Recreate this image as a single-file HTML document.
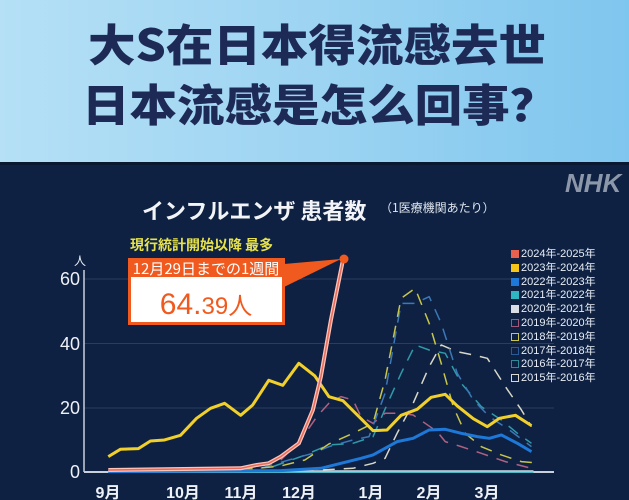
<!DOCTYPE html>
<html><head><meta charset="utf-8"><style>
body{margin:0;width:629px;height:500px;overflow:hidden;background:#0e2142;font-family:"Liberation Sans","Noto Sans CJK JP",sans-serif;position:relative}
.hdr{position:absolute;left:0;top:0;width:629px;height:162px;background:linear-gradient(90deg,#b5e0f6,#9dd4f2 50%,#7fc6ee)}
.t{position:absolute;font-family:"Noto Sans CJK SC",sans-serif;font-weight:900;color:#1e2a56;font-size:44px;line-height:44px;white-space:nowrap;transform:scaleX(1.08);transform-origin:left top}
.ab{position:absolute;white-space:nowrap}
.lg{position:absolute;left:511px;font-size:11px;color:#e8edf5;line-height:12px;font-family:"Liberation Sans","Noto Sans CJK JP",sans-serif}
.lg i{display:inline-block;width:8px;height:8px;margin-right:2px;vertical-align:-1px;box-sizing:border-box}
</style></head><body>
<div class="hdr"></div>
<div class="t" style="left:88px;top:20px">大S在日本得流感去世</div>
<div class="t" style="left:82px;top:80px">日本流感是怎么回事？</div>
<div style="position:absolute;left:0;top:162px;width:629px;height:3px;background:#0a1830"></div>
<div class="ab" style="left:565px;top:168px;font-size:26px;font-weight:bold;font-style:italic;color:#8d97aa">NHK</div>
<div class="ab" style="left:142px;top:194px;font-size:22px;font-weight:bold;color:#f2f4f8;font-family:'Noto Sans CJK JP',sans-serif">インフルエンザ 患者数</div>
<div class="ab" style="left:380px;top:199px;font-size:12px;color:#e0e6ef;font-family:'Noto Sans CJK JP',sans-serif">（1医療機関あたり）</div>
<svg width="629" height="500" style="position:absolute;left:0;top:0">
<g stroke="#2a3d5e" stroke-width="1"><line x1="84" y1="279" x2="554" y2="279"/><line x1="84" y1="343.5" x2="554" y2="343.5"/><line x1="84" y1="408" x2="554" y2="408"/></g>
<line x1="84" y1="270" x2="84" y2="472" stroke="#c8d0dc" stroke-width="1.5"/>
<line x1="84" y1="472" x2="554" y2="472" stroke="#c8d0dc" stroke-width="2"/>
<g transform="translate(0,160) scale(0.4011,0.3333)" fill="none" stroke-linejoin="round">
<polyline vector-effect="non-scaling-stroke" stroke="#3bb5c4" stroke-width="2.5" points="270,935 1330,935"/>
<polyline vector-effect="non-scaling-stroke" stroke="#c9cfd8" stroke-width="1.5" points="270,933 1330,933"/>
<polyline vector-effect="non-scaling-stroke" stroke="#b06080" stroke-width="1.5" stroke-dasharray="12 9" points="700,900 750,840 790,770 820,730 850,710 880,720 900,770 930,790 960,760 1000,760 1030,765 1060,790 1090,815 1110,845 1150,860 1200,880 1260,905 1325,925"/>
<polyline vector-effect="non-scaling-stroke" stroke="#d8d8c8" stroke-width="1.5" stroke-dasharray="12 9" points="700,932 800,930 880,925 930,910 960,895 990,820 1030,730 1070,620 1100,555 1140,575 1180,585 1215,595 1260,680 1300,750 1325,800"/>
<polyline vector-effect="non-scaling-stroke" stroke="#2f9aa8" stroke-width="1.5" stroke-dasharray="12 9" points="680,920 750,890 820,855 880,850 930,830 970,720 1000,640 1035,555 1070,570 1110,580 1150,670 1200,740 1250,780 1290,820 1325,850"/>
<polyline vector-effect="non-scaling-stroke" stroke="#3a78b8" stroke-width="1.5" stroke-dasharray="12 9" points="650,925 720,900 780,880 820,860 880,840 920,830 960,700 1000,430 1035,430 1070,410 1100,490 1140,640 1180,720 1220,770 1270,810 1325,860"/>
<polyline vector-effect="non-scaling-stroke" stroke="#c8c64a" stroke-width="1.5" stroke-dasharray="12 9" points="600,930 700,918 760,900 820,852 880,820 930,790 960,660 1000,415 1035,385 1070,490 1100,610 1130,740 1160,820 1200,860 1250,885 1300,905 1330,908"/>
<polyline vector-effect="non-scaling-stroke" stroke="#1e78d8" stroke-width="3" points="270,935 700,932 800,925 850,910 900,895 930,885 960,865 990,845 1030,835 1070,810 1110,808 1150,820 1190,830 1220,835 1250,825 1290,850 1325,875"/>
<polyline vector-effect="non-scaling-stroke" stroke="#f2d02a" stroke-width="3" points="270,890 300,868 345,866 375,843 410,840 450,826 490,775 525,745 560,730 600,766 630,735 670,661 705,676 745,610 785,648 820,710 855,722 890,764 930,812 965,810 1000,766 1040,748 1075,712 1110,703 1140,738 1180,776 1215,800 1245,775 1285,766 1325,797"/>
<polyline vector-effect="non-scaling-stroke" stroke="#ffc4b8" stroke-width="4" points="270,930 600,925 640,915 670,910 700,890 745,850 780,750 800,650 825,480 855,300"/>
<polyline vector-effect="non-scaling-stroke" stroke="#e86a5a" stroke-width="1.5" points="270,930 600,925 640,915 670,910 700,890 745,850 780,750 800,650 825,480 855,300"/>
</g>
<polygon points="284,264 284,287 341,259" fill="#f05a1e"/>
<circle cx="344" cy="259" r="4.5" fill="#f05a1e"/>
<rect x="128" y="258" width="157" height="67" fill="#f05a1e"/>
<rect x="131" y="277" width="151" height="45" fill="#fff"/>
<text x="206" y="274" fill="#fff" font-size="15" text-anchor="middle" font-family="Noto Sans CJK JP,sans-serif">12月29日までの1週間</text>
<text x="206" y="314" fill="#f05a1e" font-size="30" text-anchor="middle" font-family="Liberation Sans,Noto Sans CJK JP,sans-serif"><tspan>64.</tspan><tspan font-size="24">39人</tspan></text>
<text x="130" y="250" fill="#e8e24a" font-size="14" font-weight="bold" font-family="Noto Sans CJK JP,sans-serif">現行統計開始以降 最多</text>
<g fill="#eef1f6" font-size="18" text-anchor="end" font-family="Liberation Sans,sans-serif">
<text x="80" y="285">60</text><text x="80" y="350">40</text><text x="80" y="414">20</text><text x="80" y="478">0</text></g>
<text x="74" y="265" fill="#eef1f6" font-size="12" font-family="Noto Sans CJK JP,sans-serif">人</text>
<g fill="#eef1f6" font-size="16" font-weight="bold" text-anchor="middle" font-family="Liberation Sans,Noto Sans CJK JP,sans-serif">
<text x="108" y="498">9月</text><text x="183" y="498">10月</text><text x="241" y="498">11月</text><text x="299" y="498">12月</text><text x="371" y="498">1月</text><text x="429" y="498">2月</text><text x="487" y="498">3月</text></g>
</svg>
<div class="lg" style="top:248px">
<div style="height:13.8px"><i style="background:#e8604e"></i>2024年-2025年</div>
<div style="height:13.8px"><i style="background:#f5c518"></i>2023年-2024年</div>
<div style="height:13.8px"><i style="background:#1e78d8"></i>2022年-2023年</div>
<div style="height:13.8px"><i style="background:#2fb5c2"></i>2021年-2022年</div>
<div style="height:13.8px"><i style="background:#d8dde5"></i>2020年-2021年</div>
<div style="height:13.8px"><i style="border:1px solid #a05878"></i>2019年-2020年</div>
<div style="height:13.8px"><i style="border:1px solid #c8c64a"></i>2018年-2019年</div>
<div style="height:13.8px"><i style="border:1px solid #2a5a98"></i>2017年-2018年</div>
<div style="height:13.8px"><i style="border:1px solid #2f8a98"></i>2016年-2017年</div>
<div style="height:13.8px"><i style="border:1px solid #d8d8d0"></i>2015年-2016年</div>
</div>
</body></html>
